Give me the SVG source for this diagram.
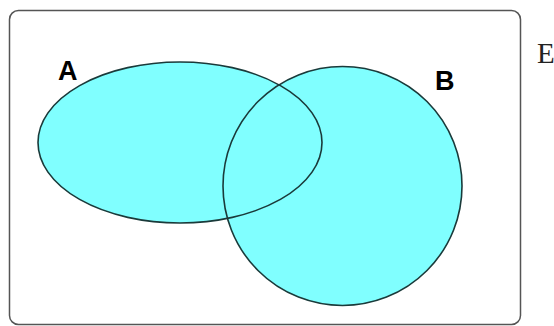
<svg xmlns="http://www.w3.org/2000/svg" width="554" height="326" viewBox="0 0 554 326">
<style>
.fill{fill:#80ffff;stroke:none}
.edge{fill:none;stroke:#1a3a3a;stroke-width:1.6}
.lbl{font-family:"Liberation Sans",Arial,sans-serif;font-weight:bold;font-size:27px;fill:#000}
</style>
<rect width="554" height="326" fill="#fff"/>
<g id="universe">
<rect x="9.5" y="10.5" width="511" height="314" rx="9" fill="none" stroke="#555" stroke-width="1.5"/>
</g>
<g id="fills">
<ellipse class="fill" cx="180" cy="142.5" rx="142" ry="80.5"/>
<circle class="fill" cx="342.5" cy="186" r="119.5"/>
</g>
<g id="setA">
<ellipse class="edge" cx="180" cy="142.5" rx="142" ry="80.5"/>
<text class="lbl" x="58" y="80">A</text>
</g>
<g id="setB">
<circle class="edge" cx="342.5" cy="186" r="119.5"/>
<text class="lbl" x="435" y="90">B</text>
</g>
<g id="labelE">
<text x="537" y="63" font-family="'Liberation Serif','Times New Roman',serif" font-size="29px" fill="#222">E</text>
</g>
</svg>
